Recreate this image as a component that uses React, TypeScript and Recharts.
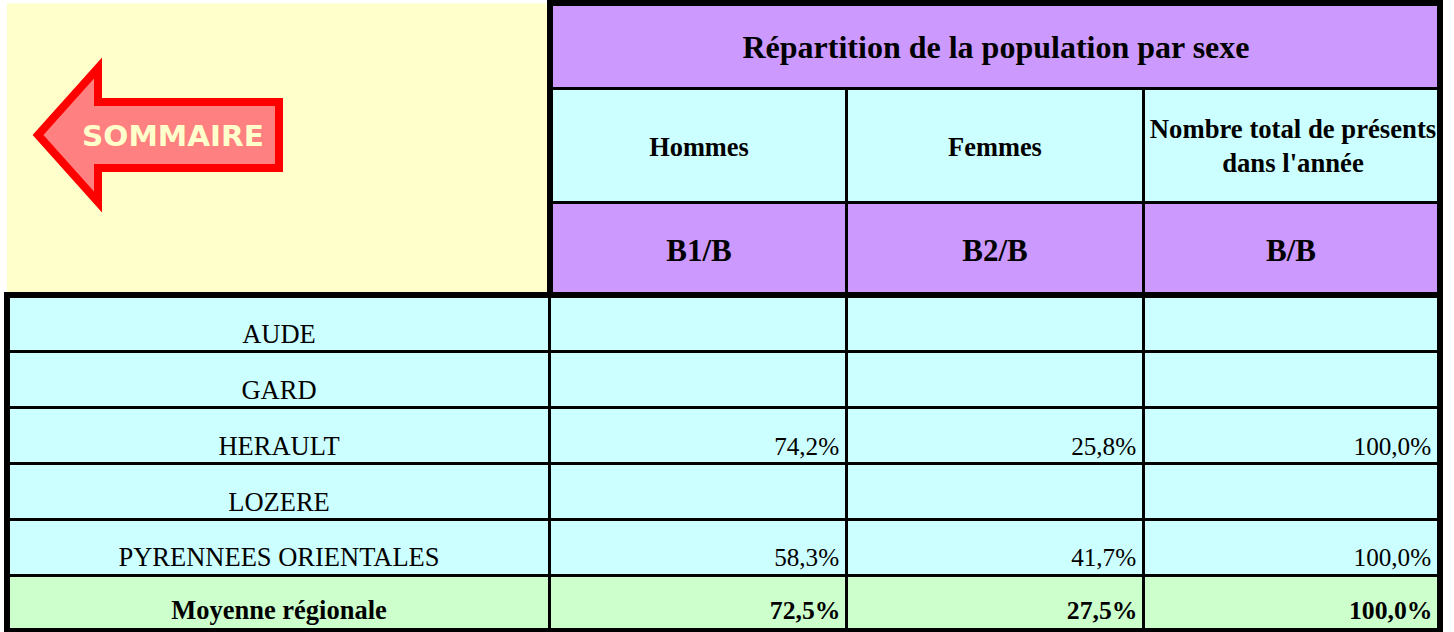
import React from "react";
import { ComposedChart, XAxis, YAxis, ReferenceArea, ReferenceDot } from "recharts";

const W = 1454;
const H = 632;

const title = "Répartition de la population par sexe";
const columnHeads = ["Hommes", "Femmes", ["Nombre total de présents", "dans l'année"]];
const columnCodes = ["B1/B", "B2/B", "B/B"];
const departments = ["AUDE", "GARD", "HERAULT", "LOZERE", "PYRENNEES ORIENTALES"];
const hommes = ["", "", "74,2%", "", "58,3%"];
const femmes = ["", "", "25,8%", "", "41,7%"];
const totals = ["", "", "100,0%", "", "100,0%"];
const regionLabel = "Moyenne régionale";
const regionValues = ["72,5%", "27,5%", "100,0%"];
const arrowLabel = "SOMMAIRE";

const PURPLE = "#CC99FF";
const CYAN = "#CCFFFF";
const YELLOW = "#FFFFCC";
const GREEN = "#CCFFCC";
const SERIF = "'Liberation Serif', serif";

type Box = { x1: number; x2: number; y1: number; y2: number; fill: string };
const boxes: Box[] = [
  { x1: 7, x2: 548, y1: 3.5, y2: 293, fill: YELLOW },
  { x1: 547, x2: 1443, y1: 0, y2: 292, fill: "#000" },
  { x1: 553, x2: 1437, y1: 6, y2: 87, fill: PURPLE },
  { x1: 553, x2: 845, y1: 90, y2: 201, fill: CYAN },
  { x1: 848, x2: 1142, y1: 90, y2: 201, fill: CYAN },
  { x1: 1145, x2: 1437, y1: 90, y2: 201, fill: CYAN },
  { x1: 553, x2: 845, y1: 204, y2: 292, fill: PURPLE },
  { x1: 848, x2: 1142, y1: 204, y2: 292, fill: PURPLE },
  { x1: 1145, x2: 1437, y1: 204, y2: 292, fill: PURPLE },
  { x1: 4, x2: 1443, y1: 292, y2: 632, fill: "#000" },
];

const bodyLeft = [10, 551, 848, 1145];
const bodyRight = [548, 845, 1142, 1437];
const bodyTop = [298, 353, 409, 465, 521, 577];
const bodyBottom = [350, 406, 462, 518, 574, 628];
const baselines = [343, 399, 455, 511, 566, 619];

type TextSpec = { text: string | string[]; size: number; bold?: boolean; anchor: string; dx: number; y: number; gap?: number };

const cellText = (spec: TextSpec) => (props: any) => {
  const vb = props.viewBox;
  const lines = Array.isArray(spec.text) ? spec.text : [spec.text];
  return (
    <g>
      {lines.map((line, i) => (
        <text
          key={i}
          x={vb.x + (spec.anchor === "middle" ? vb.width / 2 : spec.anchor === "end" ? vb.width : 0) + spec.dx}
          y={spec.y + i * (spec.gap || 0)}
          textAnchor={spec.anchor}
          fontFamily={SERIF}
          fontSize={spec.size}
          fontWeight={spec.bold ? 700 : 400}
          fill="#000"
        >
          {line}
        </text>
      ))}
    </g>
  );
};

const ArrowShape = (props: any) => {
  const { cx, cy } = props;
  const pts = [
    [-97, 0],
    [-37, -67],
    [-37, -33],
    [144, -33],
    [144, 33],
    [-37, 33],
    [-37, 67],
  ];
  return (
    <g>
      <polygon
        points={pts.map(([a, b]) => `${cx + a},${cy + b}`).join(" ")}
        fill="#FF8080"
        stroke="#FF0000"
        strokeWidth={8}
        strokeMiterlimit={10}
      />
      <text
        x={cx + 38}
        y={cy + 11}
        textAnchor="middle"
        fontFamily="'DejaVu Sans', sans-serif"
        fontWeight={700}
        fontSize={28}
        textLength={182}
        lengthAdjust="spacingAndGlyphs"
        fill={YELLOW}
      >
        {arrowLabel}
      </text>
    </g>
  );
};

export default function App() {
  const bodyCells: React.ReactNode[] = [];
  const rowFill = (r: number) => (r === departments.length ? GREEN : CYAN);
  bodyTop.forEach((top, r) => {
    bodyLeft.forEach((left, c) => {
      const isRegion = r === departments.length;
      const col = [hommes, femmes, totals][c - 1];
      const label =
        c === 0
          ? cellText({
              text: isRegion ? regionLabel : departments[r],
              size: 26.5,
              bold: isRegion,
              anchor: "middle",
              dx: 0,
              y: baselines[r],
            })
          : cellText({
              text: isRegion ? regionValues[c - 1] : col[r],
              size: isRegion ? 25.7 : 25.2,
              bold: isRegion,
              anchor: "end",
              dx: isRegion ? -4.5 : -5.8,
              y: baselines[r],
            });
      bodyCells.push(
        <ReferenceArea
          key={`b${r}-${c}`}
          x1={left}
          x2={bodyRight[c]}
          y1={top}
          y2={bodyBottom[r]}
          fill={rowFill(r)}
          fillOpacity={1}
          stroke="none"
          label={label}
        />
      );
    });
  });

  return (
    <div style={{ position: "absolute", left: 0, top: 0, width: W, height: H, background: "#fff", overflow: "hidden" }}>
      <ComposedChart width={W} height={H} margin={{ top: 0, right: 0, bottom: 0, left: 0 }} data={[]}>
        <XAxis type="number" dataKey="x" domain={[0, W]} hide allowDataOverflow />
        <YAxis type="number" dataKey="y" domain={[0, H]} reversed hide allowDataOverflow />
        {boxes.map((b, i) => {
          let label: any = undefined;
          if (i === 2) label = cellText({ text: title, size: 32, bold: true, anchor: "middle", dx: 1, y: 57.5 });
          if (i >= 3 && i <= 5) {
            const c = i - 3;
            const h = columnHeads[c];
            label = cellText({
              text: h as any,
              size: c === 2 ? 26.7 : 26.4,
              bold: true,
              anchor: "middle",
              dx: c === 2 ? 2 : 0,
              y: Array.isArray(h) ? 138 : 155.5,
              gap: 34,
            });
          }
          if (i >= 6 && i <= 8) {
            label = cellText({ text: columnCodes[i - 6], size: 31, bold: true, anchor: "middle", dx: 0, y: 261 });
          }
          return (
            <ReferenceArea
              key={i}
              x1={b.x1}
              x2={b.x2}
              y1={b.y1}
              y2={b.y2}
              fill={b.fill}
              fillOpacity={1}
              stroke="none"
              label={label}
            />
          );
        })}
        {bodyCells}
        <ReferenceDot x={135} y={135} r={1} shape={ArrowShape} />
      </ComposedChart>
    </div>
  );
}
